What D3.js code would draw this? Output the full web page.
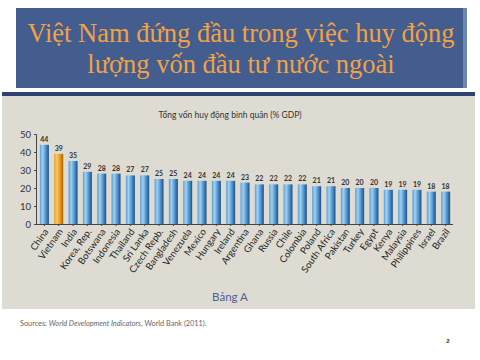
<!DOCTYPE html>
<html><head><meta charset="utf-8">
<script src="https://cdn.jsdelivr.net/npm/d3@7"></script>
<style>html,body{margin:0;padding:0;background:#fff;}svg{display:block;}</style>
</head><body>
<svg id="c" width="480" height="360"></svg>
<script>
const countries = ["China","Vietnam","India","Korea, Rep.","Botswana","Indonesia","Thailand","Sri Lanka","Czech Repb.","Bangladesh","Venezuela","Mexico","Hungary","Ireland","Argentina","Ghana","Russia","Chile","Colombia","Poland","South Africa","Pakistan","Turkey","Egypt","Kenya","Malaysia","Philippines","Israel","Brazil"];
const values = [44,39,35,29,28,28,27,27,25,25,24,24,24,24,23,22,22,22,22,21,21,20,20,20,19,19,19,18,18];
const yTicks = [0,10,20,30,40,50];
const titleLines = ["Việt Nam đứng đầu trong việc huy động","lượng vốn đầu tư nước ngoài"];
const chartTitle = "Tổng vốn huy động bình quân (% GDP)";

const svg = d3.select("#c");
const defs = svg.append("defs");
function grad(id, stops){
  const g = defs.append("linearGradient").attr("id",id).attr("x1","0").attr("x2","1").attr("y1","0").attr("y2","0");
  stops.forEach(s=>g.append("stop").attr("offset",s[0]).attr("stop-color",s[1]));
}
grad("gb",[[0,"#5a9fd6"],[0.3,"#9fd0f2"],[0.75,"#3d82bf"],[1,"#1d4f85"]]);
grad("go",[[0,"#e8a030"],[0.3,"#fbc860"],[0.75,"#d98a14"],[1,"#a86008"]]);

// title box
svg.append("rect").attr("x",16).attr("y",8).attr("width",451).attr("height",80).attr("fill","#425d8e");
svg.append("rect").attr("x",463).attr("y",8).attr("width",4).attr("height",80).attr("fill","#6f86ad");
svg.selectAll("text.t").data(titleLines).join("text")
  .attr("x",241).attr("y",(d,i)=>42+i*31).attr("text-anchor","middle")
  .attr("font-family","Liberation Serif, serif").attr("font-size",26.5)
  .attr("fill","#f2a244").text(d=>d);

// panel
svg.append("rect").attr("x",2).attr("y",92).attr("width",473).attr("height",4).attr("fill","#2f4274");
svg.append("rect").attr("x",2).attr("y",96).attr("width",473).attr("height",213).attr("fill","#dedcd2");

const x = d3.scaleBand().domain(countries).range([37,453]).paddingInner(0.37).paddingOuter(0.2);
const y = d3.scaleLinear().domain([0,50]).range([224,134]);

svg.append("text").attr("x",230).attr("y",118).attr("text-anchor","middle")
  .attr("font-family","Lato, sans-serif").attr("font-size",8.5).attr("fill","#333").text(chartTitle);

svg.append("g").selectAll("rect").data(values).join("rect")
  .attr("x",(d,i)=>x(countries[i])).attr("width",x.bandwidth())
  .attr("y",d=>y(d)).attr("height",d=>y(0)-y(d))
  .attr("fill",(d,i)=>countries[i]==="Vietnam"?"url(#go)":"url(#gb)");

svg.append("g").selectAll("text").data(values).join("text")
  .attr("x",(d,i)=>x(countries[i])+x.bandwidth()/2).attr("y",d=>y(d)-3)
  .attr("text-anchor","middle").attr("font-family","Lato, sans-serif").attr("font-weight","bold")
  .attr("font-size",7).attr("fill","#333").text(d=>d);

const ya = svg.append("g").attr("transform","translate(36,0)")
  .call(d3.axisLeft(y).tickValues(yTicks).tickSize(2).tickPadding(3));
ya.select(".domain").attr("stroke","#444");
ya.selectAll("text").attr("font-family","Lato, sans-serif").attr("font-size",9.5).attr("fill","#333");
ya.selectAll("line").attr("stroke","#444");

const xa = svg.append("g").attr("transform","translate(0,224)")
  .call(d3.axisBottom(x).tickSize(2).tickSizeOuter(0).tickPadding(4));
xa.select(".domain").attr("stroke","#444").attr("d","M36,0.5H453");
xa.selectAll("line").attr("stroke","#444");
xa.selectAll("text").attr("font-family","Lato, sans-serif").attr("font-size",9.5)
  .attr("fill","#222").attr("text-anchor","end").attr("dy","0.35em")
  .attr("transform","translate(3,4) rotate(-55)").attr("x",-2).attr("y",0);

svg.append("text").attr("x",230).attr("y",301).attr("text-anchor","middle")
  .attr("font-family","Lato, sans-serif").attr("font-size",11.5).attr("fill","#4b5f99").text("Bảng A");

const src = svg.append("text").attr("x",20).attr("y",326).attr("font-family","Lato, sans-serif")
  .attr("font-size",7.3).attr("fill","#666");
src.append("tspan").text("Sources: ");
src.append("tspan").attr("font-style","italic").text("World Development Indicators");
src.append("tspan").text(", World Bank (2011).");

svg.append("text").attr("x",448).attr("y",343).attr("text-anchor","middle")
  .attr("font-family","Liberation Sans, sans-serif").attr("font-size",6).attr("font-weight","bold").attr("fill","#333").text("2");
</script>
</body></html>
